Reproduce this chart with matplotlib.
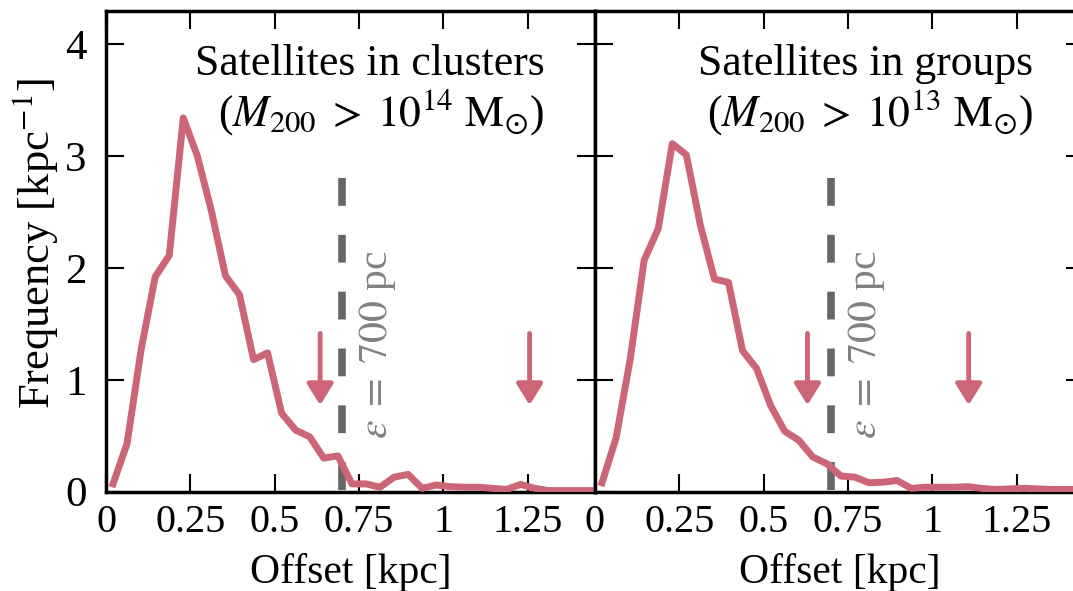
import numpy as np
import matplotlib
matplotlib.use("Agg")
import matplotlib.pyplot as plt

plt.rcParams["font.family"] = ["Liberation Serif", "DejaVu Serif"]
plt.rcParams["mathtext.fontset"] = "stix"

# Histogram bins of the satellite offset (kpc), 1/24 kpc wide
bin_edges = np.linspace(0.0, 1.5, 37)
offset = 0.5 * (bin_edges[:-1] + bin_edges[1:])

freq_clusters = [0.07, 0.43, 1.27, 1.92, 2.11, 3.34, 3.00, 2.51, 1.93, 1.76,
                 1.18, 1.24, 0.70, 0.55, 0.49, 0.30, 0.32, 0.07, 0.07, 0.04,
                 0.13, 0.155, 0.03, 0.06, 0.045, 0.04, 0.04, 0.03, 0.02, 0.065,
                 0.03, 0.01, 0.01, 0.01, 0.01, 0.01]
freq_groups = [0.08, 0.48, 1.18, 2.07, 2.35, 3.11, 3.01, 2.38, 1.90, 1.87,
               1.26, 1.10, 0.77, 0.54, 0.46, 0.31, 0.25, 0.14, 0.13, 0.08,
               0.085, 0.10, 0.03, 0.04, 0.04, 0.04, 0.045, 0.03, 0.02, 0.025,
               0.03, 0.025, 0.02, 0.02, 0.02, 0.02]

panel_titles = ["Satellites in clusters", "Satellites in groups"]
panel_masses = [r"($M_{200}\;>\;10^{14}\ \mathrm{M}_{\odot}$)",
                r"($M_{200}\;>\;10^{13}\ \mathrm{M}_{\odot}$)"]
arrow_positions = [[0.635, 1.256], [0.63, 1.108]]
softening = 0.7

xticks = [0, 0.25, 0.5, 0.75, 1, 1.25]
xtick_labels = ["0", "0.25", "0.5", "0.75", "1", "1.25"]
yticks = [0, 1, 2, 3, 4]

line_color = "#CC6677"
W, H = 1073, 591
fig = plt.figure(figsize=(W / 100, H / 100), dpi=100)

ax_left = 106 / W
ax_w = 489 / W
ax_bottom = 1 - 491.7 / H
ax_h = (491.7 - 10.5) / H

axes = [fig.add_axes([ax_left, ax_bottom, ax_w, ax_h]),
        fig.add_axes([ax_left + ax_w, ax_bottom, ax_w, ax_h])]

series = [freq_clusters, freq_groups]
for i, ax in enumerate(axes):
    ax.plot(offset, series[i], color=line_color, lw=5.0, solid_joinstyle="round",
            zorder=3)
    ax.plot([softening, softening], [2.8, 0.0], color="0.4", lw=5.5,
            dashes=(3.64, 3.8), zorder=2)
    ax.text(0.745, 0.47, r"$\varepsilon\;=\;700$ pc", rotation=90, color="0.5",
            fontsize=30, ha="left", va="bottom")
    for xa in arrow_positions[i]:
        ax.annotate("", xy=(xa, 0.774), xytext=(xa, 1.414),
                    arrowprops=dict(arrowstyle="-|>,head_length=0.4,head_width=0.25",
                                    color=line_color, lw=3.5, shrinkA=0, shrinkB=0,
                                    mutation_scale=32))
    ax.text(1.30, 3.72, panel_titles[i], fontsize=31.5, ha="right", va="baseline")
    ax.text(1.30, 3.27, panel_masses[i], fontsize=31.5, ha="right", va="baseline")

    ax.set_xlim(0, 1.45)
    ax.set_ylim(0, 4.3)
    ax.set_xticks(xticks)
    ax.set_xticklabels(xtick_labels)
    ax.set_yticks(yticks)
    ax.tick_params(direction="in", length=13, width=1.5, top=True, right=True)
    ax.tick_params(axis="x", labelsize=29, pad=9)
    ax.tick_params(axis="y", labelsize=31, pad=14)
    for sp in ax.spines.values():
        sp.set_linewidth(2.5)
    ax.text(0.5, -0.19, "Offset [kpc]", transform=ax.transAxes, fontsize=30,
            ha="center", va="baseline")

axes[1].tick_params(labelleft=False)
fig.text(35 / W, 1 - 243 / H, r"Frequency [kpc$^{-1}$]", rotation=90,
         fontsize=32, ha="center", va="center")

fig.savefig("out.png", dpi=100)
